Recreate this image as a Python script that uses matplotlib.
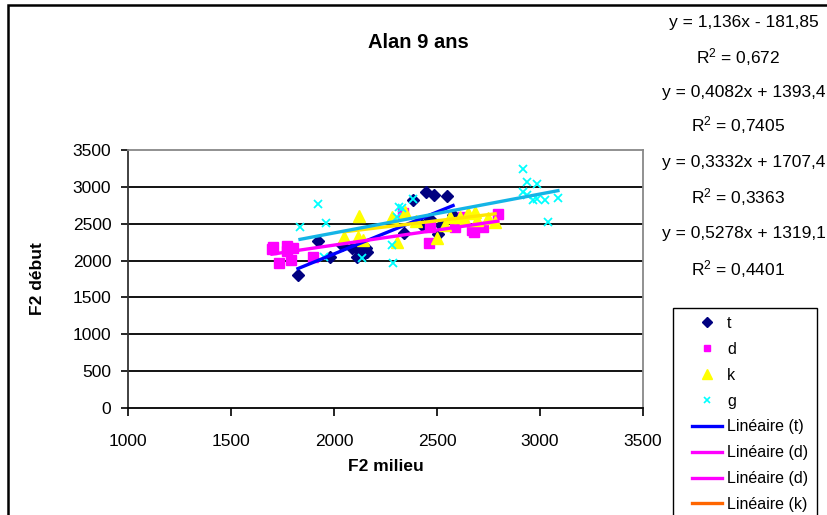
import numpy as np
import matplotlib
matplotlib.use("Agg")
import matplotlib.pyplot as plt
from matplotlib.lines import Line2D
from matplotlib.patches import Rectangle

# points (F2 milieu, F2 début)
t_x = [1825, 1922, 1981, 2039, 2087, 2112, 2117, 2150, 2155, 2160, 2340, 2383, 2427, 2447, 2466, 2485, 2505, 2519, 2549, 2578]
t_y = [1805, 2266, 2049, 2212, 2171, 2049, 2144, 2103, 2171, 2117, 2375, 2823, 2483, 2931, 2565, 2890, 2361, 2483, 2877, 2619]

d_x = [1699, 1705, 1733, 1772, 1772, 1791, 1801, 1898, 2335, 2461, 2466, 2587, 2626, 2670, 2680, 2723, 2796]
d_y = [2158, 2185, 1968, 2198, 2130, 2008, 2171, 2049, 2646, 2239, 2456, 2456, 2592, 2415, 2388, 2456, 2633]

k_x = [2049, 2117, 2121, 2141, 2282, 2306, 2345, 2400, 2500, 2540, 2563, 2612, 2636, 2650, 2684, 2694, 2748, 2782]
k_y = [2320, 2320, 2605, 2280, 2592, 2253, 2660, 2540, 2307, 2480, 2592, 2592, 2551, 2646, 2660, 2551, 2578, 2524]

g_x = [1835, 1922, 1951, 1961, 2136, 2282, 2286, 2306, 2316, 2330, 2383, 2917, 2917, 2937, 2937, 2966, 2985, 2985, 3024, 3039, 3087]
g_y = [2456, 2768, 2049, 2510, 2035, 2212, 1968, 2592, 2728, 2714, 2836, 3243, 2931, 3067, 2890, 2823, 3040, 2836, 2823, 2524, 2850]

# trend lines (slope, intercept) as shown on the chart
slopes = [1.136, 0.4082, 0.3332, 0.5278]
intercepts = [-181.85, 1393.4, 1707.4, 1319.1]
eq_labels = ["y = 1,136x - 181,85", "y = 0,4082x + 1393,4", "y = 0,3332x + 1707,4", "y = 0,5278x + 1319,1"]
r2_labels = ["R$^2$ = 0,672", "R$^2$ = 0,7405", "R$^2$ = 0,3363", "R$^2$ = 0,4401"]

plt.rcParams['font.family'] = ['Liberation Sans', 'DejaVu Sans']
plt.rcParams['mathtext.fontset'] = 'custom'
plt.rcParams['mathtext.rm'] = 'Liberation Sans'
plt.rcParams['mathtext.default'] = 'regular'

fig = plt.figure(figsize=(8.28, 5.15), dpi=100)
ax = fig.add_axes([128/828, 1-408/515, (643-128)/828, (408-150)/515])

series = [(t_x, t_y, 'D', '#000080', 6.5),
          (d_x, d_y, 's', '#FF00FF', 6.5),
          (k_x, k_y, '^', '#FFFF00', 8.5),
          (g_x, g_y, 'x', '#00FFFF', 6)]
line_cols = ['#0000FF', '#FF00FF', '#FFE600', '#14B4E6']

for (xs, ys, m, c, ms) in series:
    if m == 'x':
        ax.plot(xs, ys, ls='none', marker=m, color=c, ms=ms, mew=1.3, zorder=3)
    else:
        ax.plot(xs, ys, ls='none', marker=m, color=c, ms=ms, mec=c, zorder=3)

for i, (xs, ys, m, c, ms) in enumerate(series):
    xx = np.array([min(xs), max(xs)])
    ax.plot(xx, slopes[i]*xx + intercepts[i], color=line_cols[i], lw=2.4, zorder=4)

ax.set_xlim(1000, 3500)
ax.set_ylim(0, 3500)
ax.set_xticks(np.arange(1000, 3501, 500))
ax.set_yticks(np.arange(0, 3501, 500))
for yv in range(500, 3500, 500):
    ax.axhline(yv, color='black', lw=1.3, zorder=1)
ax.tick_params(axis='x', direction='out', length=6, width=1.2, pad=13, labelsize=12.5)
ax.tick_params(axis='y', direction='out', length=5, width=1.2, pad=7, labelsize=12.5)
ax.spines['left'].set_color('#333333')
ax.spines['bottom'].set_color('black')
ax.spines['top'].set_color('#888888')
ax.spines['right'].set_color('#888888')
for s in ax.spines.values():
    s.set_linewidth(1.3)

ax.set_xlabel('F2 milieu', fontsize=12.5, fontweight='bold', labelpad=7)
ax.set_ylabel('F2 début', fontsize=12.5, fontweight='bold', labelpad=20)

fig.text(418/828, 1-42/515, 'Alan 9 ans', ha='center', va='center', fontsize=14.5,
         fontweight='bold')

eq_y = [22, 92, 163, 233]
r2_y = [57, 125, 197, 269]
for i in range(4):
    fig.text(744/828, 1-eq_y[i]/515, eq_labels[i], ha='center', va='center', fontsize=12.5)
    fig.text(738/828, 1-r2_y[i]/515, r2_labels[i], ha='center', va='center', fontsize=12.5)

# outer chart border
fig.patches.append(Rectangle((8/828, -0.1), 1.2, 1.1 - 5/515, transform=fig.transFigure,
                             fill=False, edgecolor='black', lw=1.8, clip_on=False))

# legend frame drawn by hand, cut off by the bottom of the picture
fig.patches.append(Rectangle((673/828, -0.1), (817-673)/828, 0.1 + 1 - 308/515,
                             transform=fig.transFigure, fill=True, facecolor='white',
                             edgecolor='black', lw=1.0, zorder=5))

handles = [Line2D([], [], ls='none', marker='D', color='#000080', ms=5),
           Line2D([], [], ls='none', marker='s', color='#FF00FF', ms=5),
           Line2D([], [], ls='none', marker='^', color='#FFFF00', ms=7),
           Line2D([], [], ls='none', marker='x', color='#00FFFF', ms=4, mew=1.2),
           Line2D([], [], color='#0000FF', lw=2.4),
           Line2D([], [], color='#FF00FF', lw=2.4),
           Line2D([], [], color='#FF00FF', lw=2.4),
           Line2D([], [], color='#FF6600', lw=2.4)]
labels = ['t', 'd', 'k', 'g', 'Linéaire (t)', 'Linéaire (d)', 'Linéaire (d)', 'Linéaire (k)']
leg = fig.legend(handles, labels, loc='upper left', bbox_to_anchor=(692/828, 1-316/515),
                 frameon=False, prop={'size': 11.5}, handlelength=1.9, handletextpad=0.3,
                 labelspacing=0.68, borderpad=0, borderaxespad=0)
leg.set_zorder(6)

fig.savefig('out.png', dpi=100)
